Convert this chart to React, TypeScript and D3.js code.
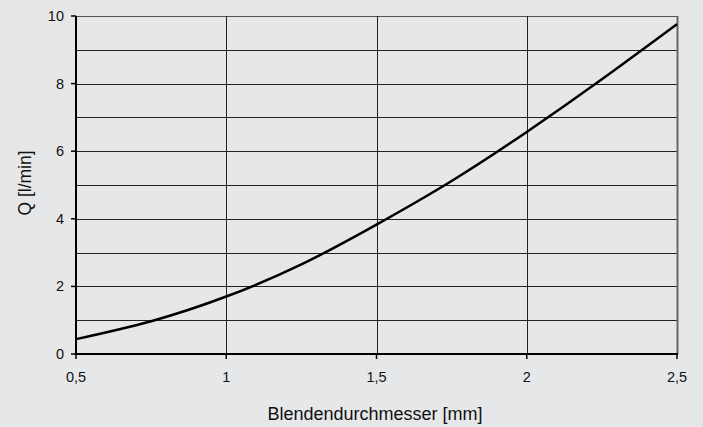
import React from "react";
import * as d3 from "d3";

const diameters = [0.5, 0.75, 1, 1.25, 1.5, 1.75, 2, 2.25, 2.5];
const flows = [0.44, 0.97, 1.7, 2.65, 3.83, 5.12, 6.57, 8.13, 9.76];
const xTicks = [0.5, 1, 1.5, 2, 2.5];
const yTicks = [0, 2, 4, 6, 8, 10];
const yGrid = [1, 2, 3, 4, 5, 6, 7, 8, 9, 10];
const xLabel = "Blendendurchmesser [mm]";
const yLabel = "Q [l/min]";

const W = 703;
const H = 427;
const fmt = (v: number) => String(v).replace(".", ",");

export default function App() {
  const x = d3.scaleLinear().domain([0.5, 2.5]).range([76, 677]);
  const y = d3.scaleLinear().domain([0, 10]).range([354, 16]);
  const line = d3
    .line<number>()
    .x((_, i) => x(diameters[i]))
    .y((d) => y(d))
    .curve(d3.curveNatural);
  const font = "'Liberation Sans', Arial, sans-serif";
  return (
    <svg
      width={W}
      height={H}
      style={{ position: "absolute", left: 0, top: 0, display: "block" }}
    >
      <rect x={0} y={0} width={W} height={H} fill="#e6e7e9" />
      {yGrid.map((v) => (
        <line
          key={"hy" + v}
          x1={x(0.5)}
          x2={x(2.5)}
          y1={Math.round(y(v)) + 0.5}
          y2={Math.round(y(v)) + 0.5}
          stroke={v === 10 ? "#555" : "#222"}
          strokeWidth={1}
        />
      ))}
      {xTicks.slice(1).map((v) => (
        <line
          key={"vx" + v}
          x1={Math.round(x(v)) + 0.5}
          x2={Math.round(x(v)) + 0.5}
          y1={y(10)}
          y2={y(0)}
          stroke={v === 2.5 ? "#666" : "#222"}
          strokeWidth={v === 2.5 ? 2 : 1}
        />
      ))}
      <line x1={x(0.5)} x2={x(0.5)} y1={y(10)} y2={y(0) + 1} stroke="#000" strokeWidth={2} />
      <line x1={x(0.5)} x2={x(2.5) + 1} y1={y(0)} y2={y(0)} stroke="#000" strokeWidth={2} />
      {yTicks.map((v) => (
        <g key={"yt" + v}>
          <line x1={x(0.5) - 5} x2={x(0.5)} y1={y(v)} y2={y(v)} stroke="#000" strokeWidth={1.5} />
          <text
            x={64}
            y={y(v)}
            dy="0.35em"
            textAnchor="end"
            fontFamily={font}
            fontSize={14.5}
            fill="#111"
          >
            {fmt(v)}
          </text>
        </g>
      ))}
      {xTicks.map((v) => (
        <g key={"xt" + v}>
          <line x1={x(v)} x2={x(v)} y1={y(0)} y2={y(0) + 5} stroke="#000" strokeWidth={1.5} />
          <text
            x={x(v)}
            y={382}
            textAnchor="middle"
            fontFamily={font}
            fontSize={14.5}
            fill="#111"
          >
            {fmt(v)}
          </text>
        </g>
      ))}
      <path d={line(flows) || ""} fill="none" stroke="#000" strokeWidth={2.5} />
      <text
        x={375}
        y={420}
        textAnchor="middle"
        fontFamily={font}
        fontSize={18}
        fill="#111"
      >
        {xLabel}
      </text>
      <text
        transform={`translate(31,183) rotate(-90)`}
        textAnchor="middle"
        fontFamily={font}
        fontSize={17.5}
        fill="#111"
      >
        {yLabel}
      </text>
    </svg>
  );
}
